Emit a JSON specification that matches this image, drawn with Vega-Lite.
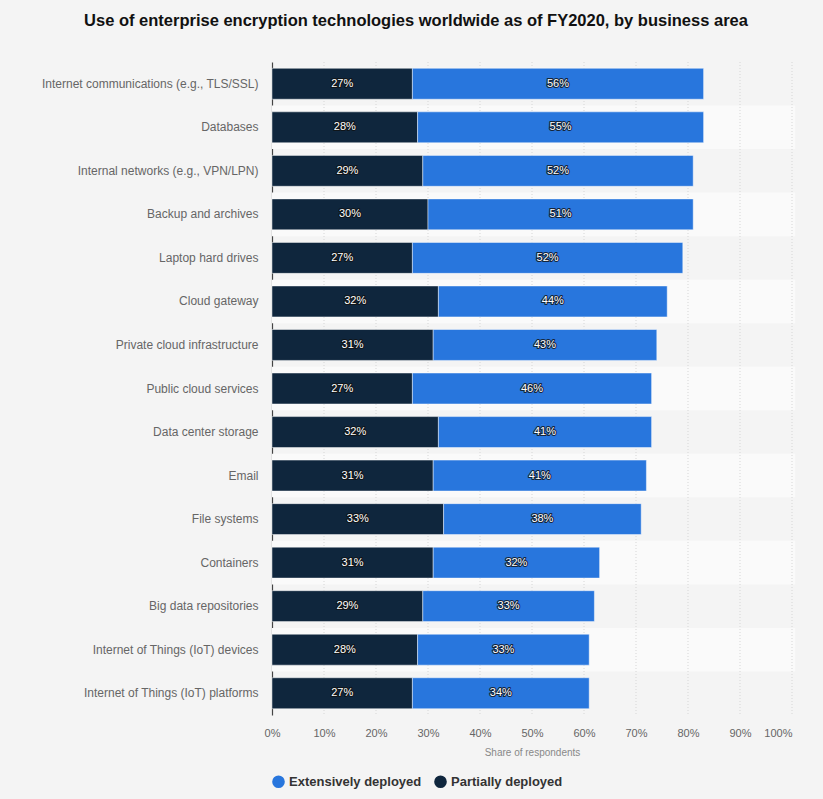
{
  "$schema": "https://vega.github.io/schema/vega-lite/v6.json",
  "autosize": {"type": "none"},
  "width": 520,
  "height": 653,
  "padding": {"left": 272, "top": 62, "right": 31, "bottom": 84},
  "background": "#f4f4f4",
  "config": {
    "view": {"stroke": null},
    "font": "Liberation Sans"
  },
  "title": {
    "text": "Use of enterprise encryption technologies worldwide as of FY2020, by business area",
    "fontSize": 16.5,
    "fontWeight": "bold",
    "color": "#111111",
    "anchor": "middle",
    "dx": -116,
    "offset": 32
  },
  "data": {
    "values": [
      {"area": "Internet communications (e.g., TLS/SSL)", "series": "Partially deployed", "value": 27},
      {"area": "Internet communications (e.g., TLS/SSL)", "series": "Extensively deployed", "value": 56},
      {"area": "Databases", "series": "Partially deployed", "value": 28},
      {"area": "Databases", "series": "Extensively deployed", "value": 55},
      {"area": "Internal networks (e.g., VPN/LPN)", "series": "Partially deployed", "value": 29},
      {"area": "Internal networks (e.g., VPN/LPN)", "series": "Extensively deployed", "value": 52},
      {"area": "Backup and archives", "series": "Partially deployed", "value": 30},
      {"area": "Backup and archives", "series": "Extensively deployed", "value": 51},
      {"area": "Laptop hard drives", "series": "Partially deployed", "value": 27},
      {"area": "Laptop hard drives", "series": "Extensively deployed", "value": 52},
      {"area": "Cloud gateway", "series": "Partially deployed", "value": 32},
      {"area": "Cloud gateway", "series": "Extensively deployed", "value": 44},
      {"area": "Private cloud infrastructure", "series": "Partially deployed", "value": 31},
      {"area": "Private cloud infrastructure", "series": "Extensively deployed", "value": 43},
      {"area": "Public cloud services", "series": "Partially deployed", "value": 27},
      {"area": "Public cloud services", "series": "Extensively deployed", "value": 46},
      {"area": "Data center storage", "series": "Partially deployed", "value": 32},
      {"area": "Data center storage", "series": "Extensively deployed", "value": 41},
      {"area": "Email", "series": "Partially deployed", "value": 31},
      {"area": "Email", "series": "Extensively deployed", "value": 41},
      {"area": "File systems", "series": "Partially deployed", "value": 33},
      {"area": "File systems", "series": "Extensively deployed", "value": 38},
      {"area": "Containers", "series": "Partially deployed", "value": 31},
      {"area": "Containers", "series": "Extensively deployed", "value": 32},
      {"area": "Big data repositories", "series": "Partially deployed", "value": 29},
      {"area": "Big data repositories", "series": "Extensively deployed", "value": 33},
      {"area": "Internet of Things (IoT) devices", "series": "Partially deployed", "value": 28},
      {"area": "Internet of Things (IoT) devices", "series": "Extensively deployed", "value": 33},
      {"area": "Internet of Things (IoT) platforms", "series": "Partially deployed", "value": 27},
      {"area": "Internet of Things (IoT) platforms", "series": "Extensively deployed", "value": 34}
    ]
  },
  "resolve": {"scale": {"y": "independent"}},
  "layer": [
    {
      "transform": [
        {"filter": "datum.series == 'Partially deployed'"},
        {"window": [{"op": "row_number", "as": "rn"}]},
        {"filter": "datum.rn % 2 == 0"}
      ],
      "mark": {"type": "rect", "color": "#fafafa"},
      "encoding": {
        "y": {"field": "area", "type": "nominal", "sort": null, "axis": null,
              "scale": {"paddingInner": 0, "paddingOuter": 0,
                        "domain": ["Internet communications (e.g., TLS/SSL)","Databases","Internal networks (e.g., VPN/LPN)","Backup and archives","Laptop hard drives","Cloud gateway","Private cloud infrastructure","Public cloud services","Data center storage","Email","File systems","Containers","Big data repositories","Internet of Things (IoT) devices","Internet of Things (IoT) platforms"]}},
        "x": {"datum": 0, "type": "quantitative", "scale": {"domain": [0, 100]}},
        "x2": {"datum": 100.6}
      }
    },
    {
      "data": {"values": [{"g": 10}, {"g": 20}, {"g": 30}, {"g": 40}, {"g": 50}, {"g": 60}, {"g": 70}, {"g": 80}, {"g": 90}, {"g": 100}]},
      "mark": {"type": "rule", "color": "#d6d6d6", "strokeDash": [1, 2], "strokeWidth": 1},
      "encoding": {
        "x": {"field": "g", "type": "quantitative"}
      }
    },
    {
      "transform": [
        {"stack": "value", "groupby": ["area"], "sort": [{"field": "series", "order": "descending"}], "as": ["x0", "x1"]},
        {"calculate": "(datum.x0 + datum.x1) / 2", "as": "mid"},
        {"calculate": "datum.value + '%'", "as": "label"}
      ],
      "layer": [
        {
          "mark": {"type": "bar", "stroke": "#ffffff", "strokeOpacity": 0.45, "strokeWidth": 1},
          "encoding": {
            "y": {"field": "area", "type": "nominal", "sort": null,
                  "scale": {"paddingInner": 0.29, "paddingOuter": 0.145},
                  "axis": {"title": null, "ticks": false, "domain": true, "domainColor": "#444444", "domainWidth": 1.2,
                           "labelFontSize": 12, "labelColor": "#666666", "labelPadding": 14, "labelLimit": 300}},
            "x": {"field": "x0", "type": "quantitative",
                  "scale": {"domain": [0, 100]},
                  "axis": {"title": "Share of respondents", "values": [0,10,20,30,40,50,60,70,80,90,100],
                           "labelExpr": "datum.value + '%'", "grid": false, "ticks": false, "domain": false,
                           "labelFontSize": 11, "labelColor": "#666666", "labelPadding": 12,
                           "labelAlign": {"condition": {"test": "datum.value == 100", "value": "right"}, "value": "center"},
                           "titleFontSize": 10, "titleFontWeight": "normal", "titleColor": "#888888", "titlePadding": 9}},
            "x2": {"field": "x1"},
            "color": {"field": "series", "type": "nominal",
                      "scale": {"domain": ["Extensively deployed", "Partially deployed"], "range": ["#2876dd", "#0f263d"]},
                      "legend": {"title": null, "orient": "bottom", "direction": "horizontal", "symbolType": "circle",
                                 "symbolSize": 160, "symbolStrokeWidth": 0, "symbolOpacity": 1,
                                 "labelFontSize": 13, "labelFontWeight": "bold", "labelColor": "#333333",
                                 "columnPadding": 12, "offset": 18}}
          }
        },
        {
          "mark": {"type": "text", "fontSize": 11, "stroke": "#111111", "strokeWidth": 2.2, "fill": "#111111", "strokeJoin": "round"},
          "encoding": {
            "y": {"field": "area", "type": "nominal", "sort": null},
            "x": {"field": "mid", "type": "quantitative"},
            "text": {"field": "label", "type": "nominal"},
            "opacity": {"value": 0.8}
          }
        },
        {
          "mark": {"type": "text", "fontSize": 11, "fill": "#ffffff"},
          "encoding": {
            "y": {"field": "area", "type": "nominal", "sort": null},
            "x": {"field": "mid", "type": "quantitative"},
            "text": {"field": "label", "type": "nominal"}
          }
        }
      ]
    }
  ]
}
